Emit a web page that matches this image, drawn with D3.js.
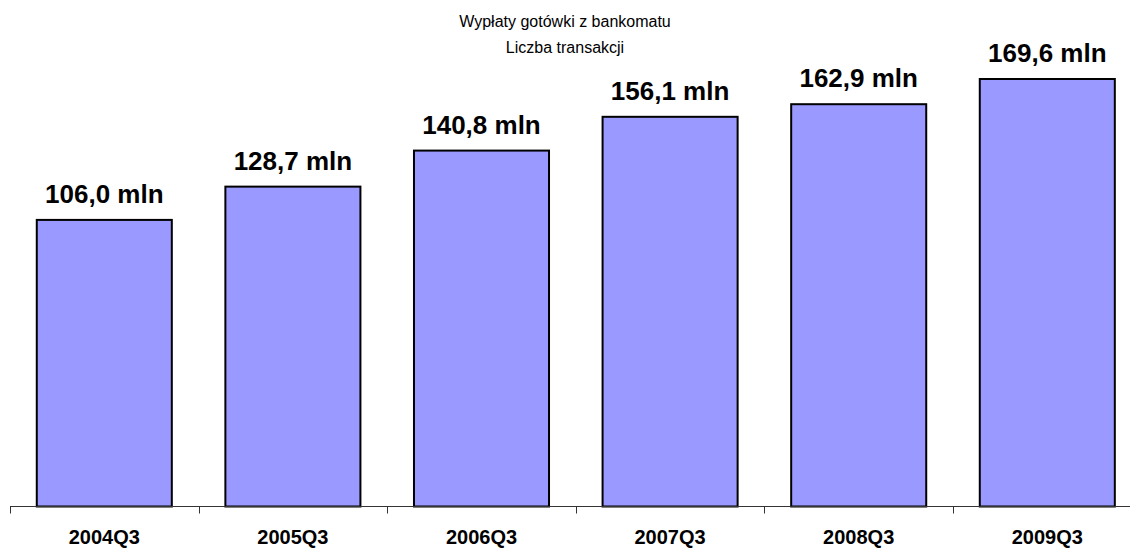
<!DOCTYPE html>
<html>
<head>
<meta charset="utf-8">
<script src="https://cdn.jsdelivr.net/npm/d3@7"></script>
<style>
  body { margin: 0; background: #fff; }
  text { font-family: "Liberation Sans", Arial, sans-serif; }
</style>
</head>
<body>
<div class="container"></div>
<script>
const categories = ["2004Q3", "2005Q3", "2006Q3", "2007Q3", "2008Q3", "2009Q3"];
// bar heights as drawn in the picture (mln transactions)
const values = [113.7, 126.9, 141.2, 154.6, 159.6, 169.6];
const valueLabels = ["106,0 mln", "128,7 mln", "140,8 mln", "156,1 mln", "162,9 mln", "169,6 mln"];
const titleLines = ["Wypłaty gotówki z bankomatu", "Liczba transakcji"];

const w = 1130;
const h = 548;
const baseY = 506.5;

const svg = d3.select(".container")
  .append("svg")
  .attr("width", w)
  .attr("height", h);

const xScale = d3.scaleBand()
  .domain(categories)
  .range([10, 1141.6])
  .paddingInner(0.284)
  .paddingOuter(0.142);

const yScale = d3.scaleLinear()
  .domain([0, 169.6])
  .range([baseY, 79]);

// title
svg.selectAll(".title")
  .data(titleLines)
  .enter()
  .append("text")
  .attr("class", "title")
  .attr("x", w / 2)
  .attr("y", (d, i) => 27 + i * 26)
  .attr("text-anchor", "middle")
  .attr("font-size", 16)
  .attr("fill", "#000")
  .text((d) => d);

// bars
svg.selectAll("rect.bar")
  .data(values)
  .enter()
  .append("rect")
  .attr("class", "bar")
  .attr("x", (d, i) => xScale(categories[i]))
  .attr("y", (d) => yScale(d))
  .attr("width", xScale.bandwidth())
  .attr("height", (d) => baseY - yScale(d))
  .attr("fill", "#9999FF")
  .attr("stroke", "#000")
  .attr("stroke-width", 2);

// value labels
svg.selectAll("text.val")
  .data(values)
  .enter()
  .append("text")
  .attr("class", "val")
  .attr("x", (d, i) => xScale(categories[i]) + xScale.bandwidth() / 2)
  .attr("y", (d) => yScale(d) - 17)
  .attr("text-anchor", "middle")
  .attr("font-size", 26)
  .attr("font-weight", "bold")
  .attr("fill", "#000")
  .text((d, i) => valueLabels[i]);

// x axis
const axis = svg.append("g");
axis.append("line")
  .attr("x1", 10)
  .attr("x2", w)
  .attr("y1", baseY)
  .attr("y2", baseY)
  .attr("stroke", "#333")
  .attr("stroke-width", 1);

const step = xScale.step();
axis.selectAll("line.tick")
  .data(categories)
  .enter()
  .append("line")
  .attr("class", "tick")
  .attr("x1", (d) => Math.round(xScale(d) - step * 0.142) + 0.5)
  .attr("x2", (d) => Math.round(xScale(d) - step * 0.142) + 0.5)
  .attr("y1", baseY)
  .attr("y2", baseY + 7)
  .attr("stroke", "#333")
  .attr("stroke-width", 1);

axis.selectAll("text.cat")
  .data(categories)
  .enter()
  .append("text")
  .attr("class", "cat")
  .attr("x", (d) => xScale(d) + xScale.bandwidth() / 2)
  .attr("y", 544)
  .attr("text-anchor", "middle")
  .attr("font-size", 20)
  .attr("font-weight", "bold")
  .attr("fill", "#000")
  .text((d) => d);
</script>
</body>
</html>
